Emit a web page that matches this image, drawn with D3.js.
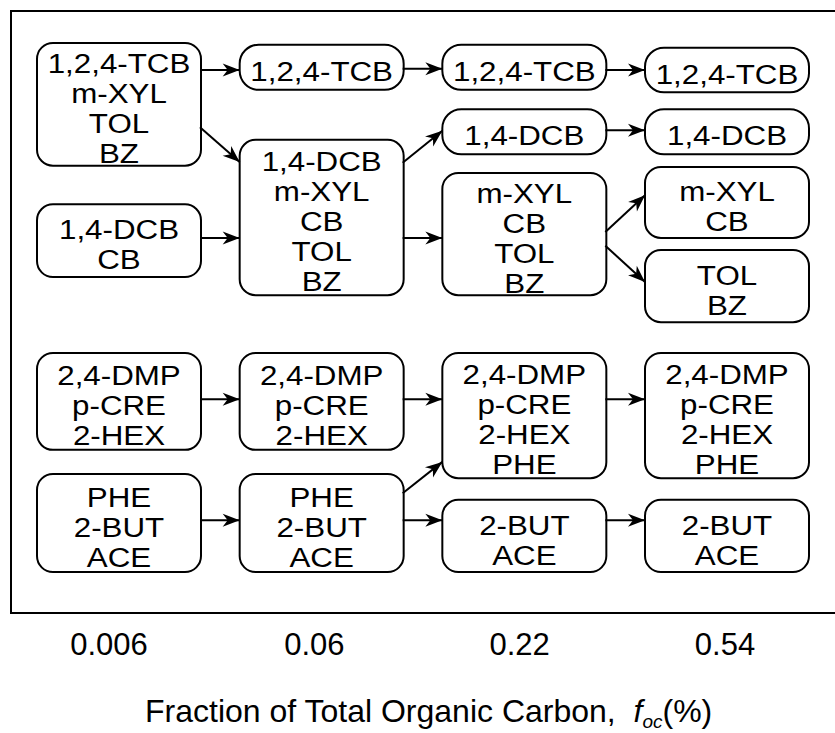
<!DOCTYPE html>
<html>
<head>
<meta charset="utf-8">
<script src="https://cdn.jsdelivr.net/npm/d3@7"></script>
<style>
  body { margin: 0; background: #fff; }
  text { font-family: "Liberation Sans", Arial, sans-serif; fill: #000; }
</style>
</head>
<body>
<svg id="chart" width="835" height="733"></svg>
<script>
// f_oc columns (categories on the x axis)
var focLabels = ["0.006", "0.06", "0.22", "0.54"]

// groups of compounds at each f_oc level, top/bottom in % of frame height
var nodes = [
  {id: "a1", col: "0.006", top: 5.3, bottom: 25.7, lines: ["1,2,4-TCB", "m-XYL", "TOL", "BZ"]},
  {id: "b1", col: "0.006", top: 32.1, bottom: 44.2, lines: ["1,4-DCB", "CB"]},
  {id: "c1", col: "0.006", top: 56.8, bottom: 72.9, lines: ["2,4-DMP", "p-CRE", "2-HEX"]},
  {id: "d1", col: "0.006", top: 76.9, bottom: 93.2, lines: ["PHE", "2-BUT", "ACE"]},

  {id: "a2", col: "0.06", top: 5.6, bottom: 13.1, lines: ["1,2,4-TCB"]},
  {id: "b2", col: "0.06", top: 21.4, bottom: 47.2, lines: ["1,4-DCB", "m-XYL", "CB", "TOL", "BZ"]},
  {id: "c2", col: "0.06", top: 56.8, bottom: 72.9, lines: ["2,4-DMP", "p-CRE", "2-HEX"]},
  {id: "d2", col: "0.06", top: 76.9, bottom: 93.2, lines: ["PHE", "2-BUT", "ACE"]},

  {id: "a3", col: "0.22", top: 5.6, bottom: 13.1, lines: ["1,2,4-TCB"]},
  {id: "e3", col: "0.22", top: 16.3, bottom: 23.8, lines: ["1,4-DCB"]},
  {id: "b3", col: "0.22", top: 26.9, bottom: 47.2, lines: ["m-XYL", "CB", "TOL", "BZ"]},
  {id: "c3", col: "0.22", top: 56.8, bottom: 77.6, lines: ["2,4-DMP", "p-CRE", "2-HEX", "PHE"]},
  {id: "d3", col: "0.22", top: 81.2, bottom: 93.2, lines: ["2-BUT", "ACE"]},

  {id: "a4", col: "0.54", top: 6.1, bottom: 13.5, lines: ["1,2,4-TCB"]},
  {id: "e4", col: "0.54", top: 16.3, bottom: 23.8, lines: ["1,4-DCB"]},
  {id: "b4", col: "0.54", top: 25.9, bottom: 37.7, lines: ["m-XYL", "CB"]},
  {id: "f4", col: "0.54", top: 39.7, bottom: 51.7, lines: ["TOL", "BZ"]},
  {id: "c4", col: "0.54", top: 56.8, bottom: 77.6, lines: ["2,4-DMP", "p-CRE", "2-HEX", "PHE"]},
  {id: "d4", col: "0.54", top: 81.2, bottom: 93.2, lines: ["2-BUT", "ACE"]}
]

// arrows: source, target, start level, end level (same % units)
var links = [
  {source: "a1", target: "a2", sy: 9.8, ty: 9.8},
  {source: "a1", target: "b2", sy: 19.3, ty: 25.1},
  {source: "b1", target: "b2", sy: 37.7, ty: 37.7},
  {source: "a2", target: "a3", sy: 9.6, ty: 9.6},
  {source: "b2", target: "e3", sy: 25.2, ty: 19.9},
  {source: "b2", target: "b3", sy: 37.7, ty: 37.7},
  {source: "a3", target: "a4", sy: 9.8, ty: 9.8},
  {source: "e3", target: "e4", sy: 19.8, ty: 19.8},
  {source: "b3", target: "b4", sy: 36.7, ty: 30.6},
  {source: "b3", target: "f4", sy: 39.0, ty: 45.0},
  {source: "c1", target: "c2", sy: 64.5, ty: 64.5},
  {source: "d1", target: "d2", sy: 84.6, ty: 84.6},
  {source: "c2", target: "c3", sy: 64.5, ty: 64.5},
  {source: "d2", target: "c3", sy: 80.1, ty: 74.9},
  {source: "d2", target: "d3", sy: 84.6, ty: 84.6},
  {source: "c3", target: "c4", sy: 64.5, ty: 64.5},
  {source: "d3", target: "d4", sy: 84.6, ty: 84.6}
]

var xTitle = "Fraction of Total Organic Carbon,\u00a0\u00a0"

var svg = d3.select("#chart")

var frame = {left: 11, top: 11, bottom: 613}
var halfW = 82

var x = d3.scalePoint().domain(focLabels).range([119, 727])
var xLab = d3.scalePoint().domain(focLabels).range([109, 725])
var y = d3.scaleLinear().domain([0, 100]).range([frame.top, frame.bottom])

svg.append("defs").append("marker")
  .attr("id", "head")
  .attr("markerUnits", "userSpaceOnUse")
  .attr("viewBox", "-18 -8 19 16")
  .attr("refX", 0).attr("refY", 0)
  .attr("markerWidth", 19).attr("markerHeight", 16)
  .attr("orient", "auto")
  .append("path")
  .attr("d", "M0,0L-17,-6.5L-12,0L-17,6.5Z")
  .attr("fill", "#000")

// frame (right side runs off the picture)
svg.append("rect")
  .attr("x", frame.left).attr("y", frame.top)
  .attr("width", 900).attr("height", frame.bottom - frame.top)
  .attr("fill", "none").attr("stroke", "#000").attr("stroke-width", 2)

var byId = {}
nodes.forEach(function(d) { byId[d.id] = d })

svg.append("g").selectAll("line")
  .data(links)
  .enter().append("line")
  .attr("x1", function(d) { return x(byId[d.source].col) + halfW - 1 })
  .attr("x2", function(d) { return x(byId[d.target].col) - halfW })
  .attr("y1", function(d) { return y(d.sy) })
  .attr("y2", function(d) { return y(d.ty) })
  .attr("stroke", "#000").attr("stroke-width", 2)
  .attr("marker-end", "url(#head)")

var box = svg.append("g").selectAll("g.box")
  .data(nodes)
  .enter().append("g").attr("class", "box")

box.append("rect")
  .attr("x", function(d) { return x(d.col) - halfW })
  .attr("y", function(d) { return y(d.top) })
  .attr("width", halfW * 2)
  .attr("height", function(d) { return y(d.bottom) - y(d.top) })
  .attr("rx", function(d) { return d.lines.length == 1 ? 19 : 16 })
  .attr("fill", "none").attr("stroke", "#000").attr("stroke-width", 2)

var lineH = 30
box.each(function(d) {
  var cy = (y(d.top) + y(d.bottom)) / 2 + 4
  var first = cy + 9.6 - (d.lines.length - 1) * lineH / 2
  d3.select(this).selectAll("text")
    .data(d.lines)
    .enter().append("text")
    .attr("transform", function(t, i) {
      return "translate(" + x(d.col) + "," + (first + i * lineH) + ") scale(1.16,1)"
    })
    .attr("text-anchor", "middle")
    .attr("font-size", 27)
    .text(function(t) { return t })
})

// category labels under the frame
svg.append("g").selectAll("text")
  .data(focLabels)
  .enter().append("text")
  .attr("x", function(d) { return xLab(d) })
  .attr("y", 655)
  .attr("text-anchor", "middle")
  .attr("font-size", 31)
  .text(function(d) { return d })

var title = svg.append("text")
  .attr("x", 145).attr("y", 722)
  .attr("font-size", 32)
title.append("tspan").text(xTitle)
title.append("tspan").attr("font-style", "italic").text("f")
title.append("tspan").attr("font-style", "italic").attr("font-size", 19).attr("dy", 6).text("oc")
title.append("tspan").attr("dy", -6).text("(%)")
</script>
</body>
</html>
